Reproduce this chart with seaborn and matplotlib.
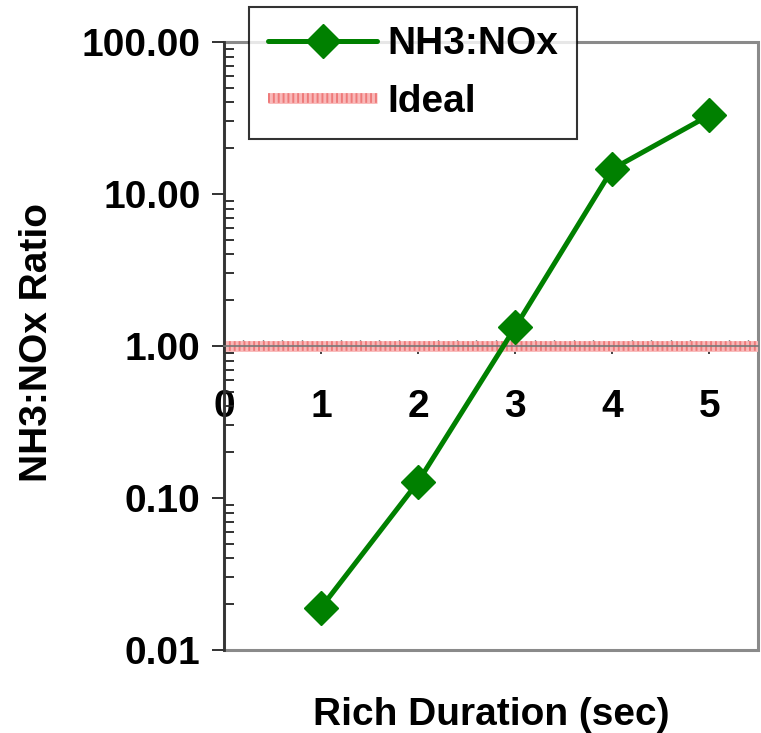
import matplotlib
matplotlib.use("Agg")
import matplotlib.pyplot as plt
import seaborn as sns
import pandas as pd
import numpy as np
from matplotlib.patches import Rectangle
from matplotlib.legend_handler import HandlerTuple
from matplotlib.ticker import FixedLocator, MultipleLocator, LogLocator, NullFormatter

# data
rich_duration = [1, 2, 3, 4, 5]
nh3_nox_ratio = [0.0190, 0.128, 1.33, 14.6, 33.0]
ideal_ratio = 1.0
y_ticks = [0.01, 0.1, 1, 10, 100]
y_tick_labels = ["0.01", "0.10", "1.00", "10.00", "100.00"]
x_ticks = [0, 1, 2, 3, 4, 5]

sns.set_style("white")
plt.rcParams['font.family'] = ['Liberation Sans', 'DejaVu Sans']
plt.rcParams['font.weight'] = 'bold'
plt.rcParams['text.color'] = 'black'
plt.rcParams['xtick.color'] = 'black'
plt.rcParams['ytick.color'] = 'black'

FS = 28

fig = plt.figure(figsize=(7.61, 7.33), dpi=100)
ax = fig.add_axes([224/761, 1-650/733, (758-224)/761, (650-42)/733])

df = pd.DataFrame({"x": rich_duration, "y": nh3_nox_ratio})
green = "#008000"

# ideal line
ideal_a = ax.axhline(ideal_ratio, color="#f9b8b8", lw=7.8, zorder=2,
                     solid_capstyle="butt")
ideal_b = ax.axhline(ideal_ratio, color="#ee7a7a", lw=7.0, ls=(0, (0.2, 0.3)),
                     zorder=2, dash_capstyle="butt")

sns.lineplot(data=df, x="x", y="y", ax=ax, color=green, lw=3.6, marker="D",
             markersize=17, markeredgecolor=green, markeredgewidth=1,
             label="NH3:NOx", zorder=3, legend=False)
main_line = ax.get_lines()[-1]

ax.set_yscale("log")
ax.set_ylim(0.01, 100)
ax.set_xlim(0, 5.5)

# frame
for s in ["top", "right"]:
    ax.spines[s].set_visible(False)
ax.spines["left"].set_color("#333333")
ax.spines["left"].set_linewidth(2)
ax.spines["bottom"].set_position(("data", 1))
ax.spines["bottom"].set_color("#777777")
ax.spines["bottom"].set_linewidth(1.2)
ax.add_patch(Rectangle((0, 0), 1, 1, transform=ax.transAxes, fill=False,
                       ec="#8a8a8a", lw=2.2, clip_on=False, zorder=0))

# y ticks
ax.yaxis.set_major_locator(FixedLocator(y_ticks))
ax.set_yticklabels(y_tick_labels, fontsize=FS, fontweight="bold")
ax.yaxis.set_minor_locator(LogLocator(base=10, subs=np.arange(2, 10)))
ax.yaxis.set_minor_formatter(NullFormatter())
ax.tick_params(axis="y", which="major", direction="out", length=9, width=1.3,
               color="#222222", pad=8, left=True)
ax.tick_params(axis="y", which="minor", direction="in", length=7, width=1.3,
               color="#222222", left=True)

# x ticks
ax.set_xticks(x_ticks)
ax.set_xticklabels([str(v) for v in x_ticks], fontsize=FS, fontweight="bold")
ax.xaxis.set_minor_locator(MultipleLocator(0.2))
ax.tick_params(axis="x", which="major", direction="out", length=6, width=1.2,
               color="#222222", pad=25, bottom=True)
ax.tick_params(axis="x", which="minor", direction="in", length=4, width=1.0,
               color="#222222", bottom=True)

ax.set_xlabel("")
ax.set_ylabel("")
fig.text(491/761, 1-715/733, "Rich Duration (sec)", ha="center", va="center",
         fontsize=FS, fontweight="bold")
fig.text(37/761, 1-342/733, "NH3:NOx Ratio", ha="center", va="center",
         rotation=90, fontsize=FS, fontweight="bold")

leg = fig.legend([main_line, (ideal_a, ideal_b)], ["NH3:NOx", "Ideal"],
                 handler_map={tuple: HandlerTuple(ndivide=1, pad=0)},
                 loc="upper left", bbox_to_anchor=(249/761, 1-7/733),
                 frameon=True, fancybox=False, handlelength=2.8,
                 borderpad=0.5, labelspacing=0.55, handletextpad=0.25,
                 borderaxespad=0, prop={"weight": "bold", "size": FS})
leg.get_frame().set_edgecolor("black")
leg.get_frame().set_linewidth(1.5)

fig.savefig("out.png", dpi=100)
